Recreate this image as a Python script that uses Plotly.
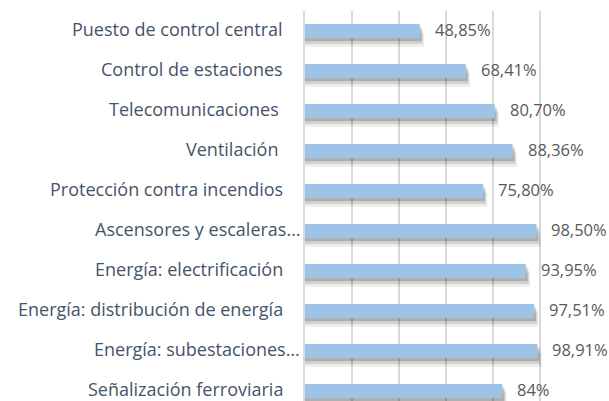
import plotly.graph_objects as go

categories = [
    "Puesto de control central",
    "Control de estaciones",
    "Telecomunicaciones ",
    "Ventilación ",
    "Protección contra incendios",
    "Ascensores y escaleras…",
    "Energía: electrificación",
    "Energía: distribución de energía",
    "Energía: subestaciones…",
    "Señalización ferroviaria",
]
values = [48.85, 68.41, 80.70, 88.36, 75.80, 98.50, 93.95, 97.51, 98.91, 84.0]
value_labels = ["48,85%", "68,41%", "80,70%", "88,36%", "75,80%",
                "98,50%", "93,95%", "97,51%", "98,91%", "84%"]
x_ticks = [0, 20, 40, 60, 80, 100, 120]

idx = list(range(len(categories)))
BAR_W = 0.35
fig = go.Figure()

# soft drop shadows
for alpha, dy, dx in [(0.07, 0.22, 1.8), (0.11, 0.15, 1.3), (0.17, 0.08, 0.8)]:
    fig.add_trace(go.Bar(
        y=idx, x=[v + dx for v in values], orientation="h",
        width=BAR_W, offset=-BAR_W / 2 + dy,
        marker=dict(color=f"rgba(0,0,0,{alpha})", line_width=0),
        hoverinfo="skip", showlegend=False,
    ))

fig.add_trace(go.Bar(
    y=idx, x=values, orientation="h",
    width=BAR_W, offset=-BAR_W / 2,
    marker=dict(color="#9DC3E6", line_width=0),
    showlegend=False,
))

annotations = []
for i, (v, t) in enumerate(zip(values, value_labels)):
    annotations.append(dict(
        x=v, y=i, xref="x", yref="y", text=t, showarrow=False,
        xanchor="left", yanchor="middle", xshift=14, yshift=2, borderpad=0,
        font=dict(family="Open Sans", size=16.5, color="#595959"),
    ))
for i, c in enumerate(categories):
    stripped = c.rstrip(" ")
    txt = stripped + "\u00a0" * (len(c) - len(stripped))
    annotations.append(dict(
        x=0, y=i, xref="x", yref="y", text=txt, showarrow=False,
        xanchor="right", yanchor="middle", borderpad=0, yshift=2,
        xshift=-4 if c.endswith("…") else -21,
        font=dict(family="Open Sans", size=18, color="#44546A"),
    ))

fig.update_layout(
    width=609, height=401,
    margin=dict(l=305, r=22, t=11, b=0),
    paper_bgcolor="white", plot_bgcolor="white",
    barmode="overlay",
    annotations=annotations,
    xaxis=dict(range=[0, 120], tickvals=x_ticks, showticklabels=False,
               showgrid=True, gridcolor="#D9D9D9", gridwidth=1.5,
               zeroline=False, showline=False, fixedrange=True),
    yaxis=dict(range=[9.25, -0.5], showticklabels=False, showgrid=False,
               zeroline=False, showline=True, linecolor="#D9D9D9",
               linewidth=2, fixedrange=True),
)

fig.write_html(
    "out.html",
    config={"displayModeBar": False},
    post_script="document.body.style.margin='0';document.body.style.padding='0';",
)
